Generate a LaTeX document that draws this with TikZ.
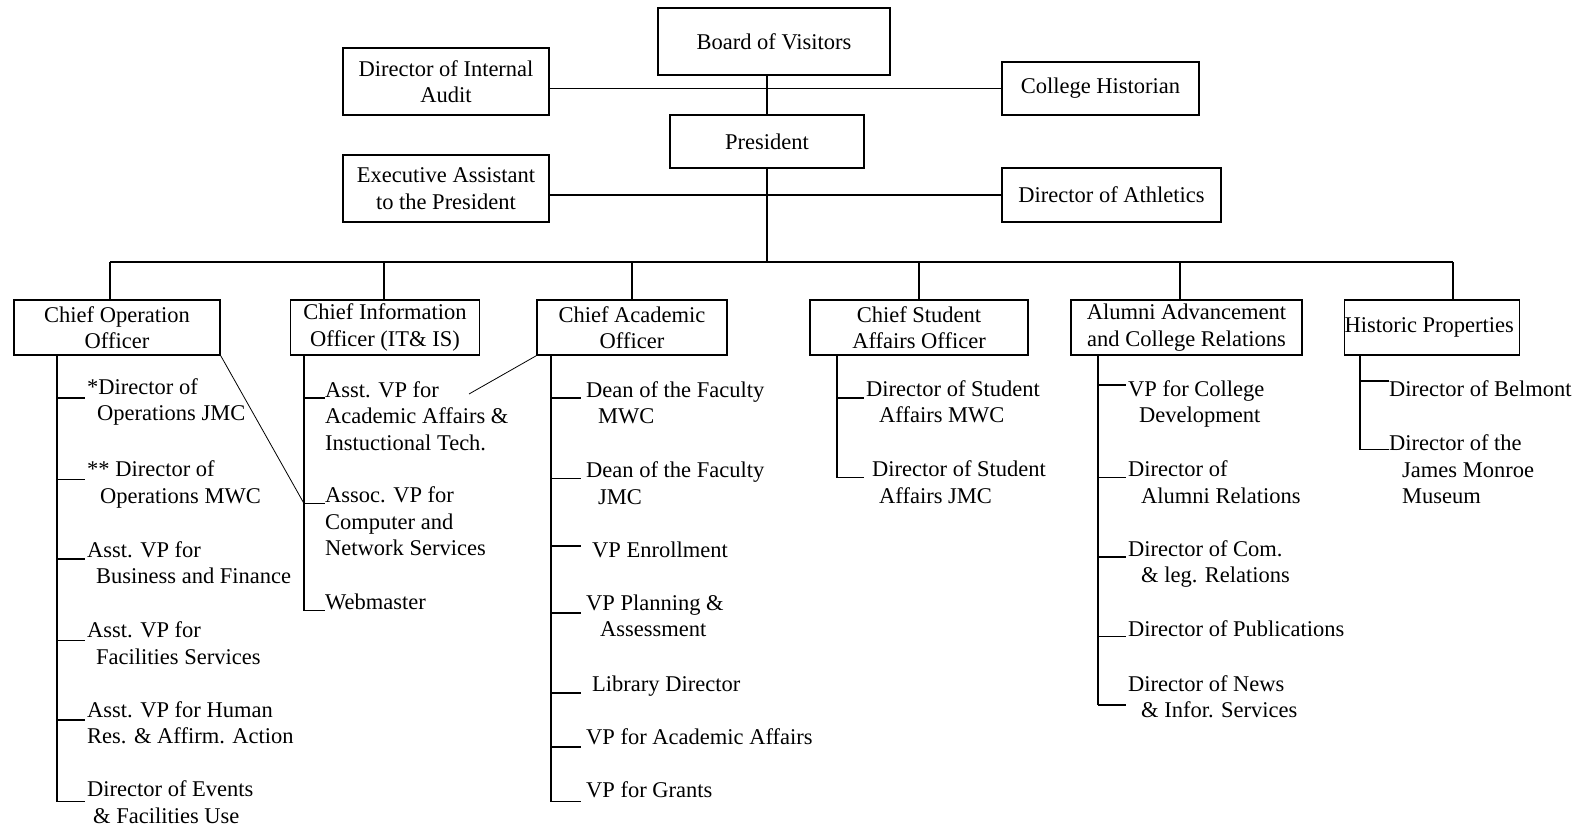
\documentclass[tikz,border=0pt]{standalone}
\usepackage{fontspec}
\setmainfont{Liberation Serif}
\newcommand{\indnt}[1]{\hspace*{#1pt}}
\newcommand{\stack}[1]{\begin{tabular}[t]{@{}l@{}}#1\end{tabular}}

\tikzset{
	unit/.style={draw, line width=1.5pt, inner sep=0pt, align=center},
	item/.style={anchor=base west, inner sep=0pt},
	link/.style={line width=1.5pt},
	cross/.style={line width=0.8pt}
}

\begin{document}
\begin{tikzpicture}[x=1pt, y=-1pt, font=\fontsize{22.5}{26.5}\selectfont]
\fill [white] (0,0) rectangle (1579,826);
\useasboundingbox (0,0) rectangle (1579,826);

% top of the chart
\node [unit, minimum width=232, minimum height=67] (bov) at (774,41.5) {Board of Visitors};
\node [unit, minimum width=194, minimum height=53] (pres) at (767,141.5) {President};
\node [unit, minimum width=206, minimum height=67] (audit) at (446,81.5) {Director of Internal\\Audit};
\node [unit, minimum width=206, minimum height=67] (exec) at (446,188.5) {Executive Assistant\\to the President};
\node [unit, minimum width=197, minimum height=53] (hist) at (1100.5,88.5) {College Historian};
\node [unit, minimum width=219, minimum height=54] (athl) at (1111.5,195) {Director of Athletics};

\draw [link] (pres.north) -- (pres.north |- bov.south);
\draw [link] (hist.west) -- (hist.west -| audit.east);
\draw [link] (athl.west) -- (athl.west -| exec.east);
\coordinate (bus) at (pres.south |- 0,262);
\draw [link] (pres.south) -- (bus);

% officers
\foreach \n/\x/\w/\txt in {
	coo/117/206/{Chief Operation\\Officer},
	cio/385/189/{Chief Information\\Officer (IT\& IS)},
	cao/632/190/{Chief Academic\\Officer},
	csao/919/218/{Chief Student\\Affairs Officer},
	alum/1186.5/231/{Alumni Advancement\\and College Relations},
	hp/1432/174/{Historic Properties}
	} {
	\node [unit, minimum width=\w, minimum height=55] (\n) at (\x,327.5) {\txt};
}
\foreach \n/\o in {coo/-7, cio/-1, cao/0, csao/0, alum/-6.5, hp/21} {
	\coordinate (\n-top) at ([xshift=\o]\n.north);
	\draw [link] (\n-top) -- (\n-top |- bus);
}
\draw [link] (coo-top |- bus) -- (hp-top |- bus);

% chief operation officer
\node [item] (coo-1) at (87,394) {\stack{*Director of\\\indnt{10}Operations JMC}};
\node [item] (coo-2) at (87,476.5) {\stack{** Director of\\\indnt{13}Operations MWC}};
\node [item] (coo-3) at (87,557) {\stack{Asst. VP for\\\indnt{9}Business and Finance}};
\node [item] (coo-4) at (87,637.5) {\stack{Asst. VP for\\\indnt{9}Facilities Services}};
\node [item] (coo-5) at (87,717) {\stack{Asst. VP for Human\\Res. \& Affirm. Action}};
\node [item] (coo-6) at (87,796.5) {\stack{Director of Events\\\indnt{6}\& Facilities Use}};
\foreach \k/\yt in {1/398, 2/479.5, 3/559, 4/640.5, 5/720, 6/801.5}
	\draw [link] (57,\yt) coordinate (coo-s\k) -- ++(28,0);
\draw [link] (coo-s1 |- coo.south) -- (coo-s6);

% chief information officer
\node [item] (cio-1) at (325,397) {\stack{Asst. VP for\\Academic Affairs \&\\Instuctional Tech.}};
\node [item] (cio-2) at (325,502.5) {\stack{Assoc. VP for\\Computer and\\Network Services}};
\node [item] (cio-3) at (325,609.5) {Webmaster};
\foreach \k/\yt in {1/398, 2/503.5, 3/610.5}
	\draw [link] (304,\yt) coordinate (cio-s\k) -- ++(21,0);
\draw [link] (cio-s1 |- cio.south) -- (cio-s3);

% chief academic officer
\node [item] (cao-1) at (586,397) {\stack{Dean of the Faculty\\\indnt{12}MWC}};
\node [item] (cao-2) at (586,477.5) {\stack{Dean of the Faculty\\\indnt{12}JMC}};
\node [item] (cao-3) at (592,557) {VP Enrollment};
\node [item] (cao-4) at (586,610) {\stack{VP Planning \&\\\indnt{14}Assessment}};
\node [item] (cao-5) at (592,691) {Library Director};
\node [item] (cao-6) at (586,744) {VP for Academic Affairs};
\node [item] (cao-7) at (586,797.5) {VP for Grants};
\foreach \k/\yt in {1/398, 2/478.5, 3/546, 4/613, 5/693, 6/747, 7/801.5}
	\draw [link] (551,\yt) coordinate (cao-s\k) -- ++(30,0);
\draw [link] (cao-s1 |- cao.south) -- (cao-s7);

% chief student affairs officer
\node [item] (csao-1) at (866,396) {\stack{Director of Student\\\indnt{13}Affairs MWC}};
\node [item] (csao-2) at (872,476.5) {\stack{Director of Student\\\indnt{7}Affairs JMC}};
\foreach \k/\yt in {1/398, 2/477.5}
	\draw [link] (837,\yt) coordinate (csao-s\k) -- ++(27,0);
\draw [link] (csao-s1 |- csao.south) -- (csao-s2);

% alumni advancement
\node [item] (alum-1) at (1128,396) {\stack{VP for College\\\indnt{11}Development}};
\node [item] (alum-2) at (1128,476.5) {\stack{Director of\\\indnt{13}Alumni Relations}};
\node [item] (alum-3) at (1128,556) {\stack{Director of Com.\\\indnt{13}\& leg. Relations}};
\node [item] (alum-4) at (1128,636.5) {Director of Publications};
\node [item] (alum-5) at (1128,691) {\stack{Director of News\\\indnt{13}\& Infor. Services}};
\foreach \k/\yt in {1/385, 2/477.5, 3/557, 4/636.5, 5/705}
	\draw [link] (1098,\yt) coordinate (alum-s\k) -- ++(28,0);
\draw [link] (alum-s1 |- alum.south) -- (alum-s5);

% historic properties
\node [item] (hp-1) at (1389,396) {Director of Belmont};
\node [item] (hp-2) at (1389,450.5) {\stack{Director of the\\\indnt{13}James Monroe\\\indnt{13}Museum}};
\foreach \k/\yt in {1/381, 2/449.5}
	\draw [link] (1360,\yt) coordinate (hp-s\k) -- ++(29,0);
\draw [link] (hp-s1 |- hp.south) -- (hp-s2);

% cross links
\coordinate (aaTip) at (469,394);
\draw [cross] (coo.south east) -- (cio-s2);
\draw [cross] (cao.south west) -- (aaTip);
\end{tikzpicture}
\end{document}
